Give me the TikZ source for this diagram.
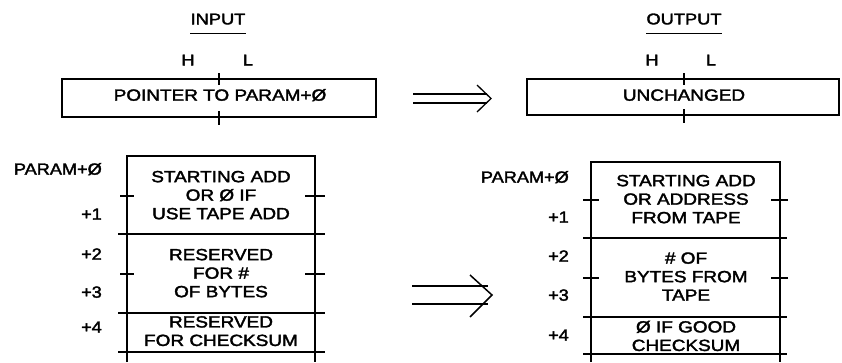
\documentclass[tikz,border=0pt]{standalone}
\usepackage{graphicx}
\usepackage{fontspec}
\setmainfont{Liberation Sans}[FakeBold=2]
\newcommand{\wtxt}[2][1.17]{\scalebox{#1}[1]{\begin{tabular}{@{}c@{}}#2\end{tabular}}}
\begin{document}
\begin{tikzpicture}[x=1pt,y=-1pt,
  ln/.style={line width=1.5pt},
  tk/.style={line width=1.3pt},
  txt/.style={font=\fontsize{16.2}{18.5}\selectfont, inner sep=0pt},
  lbl/.style={font=\fontsize{16.2}{18.5}\selectfont, inner sep=0pt, anchor=east},
  hd/.style={font=\fontsize{15.6}{17}\selectfont, inner sep=0pt}]
\useasboundingbox (0,0) rectangle (842,362);
% headings
\node[hd] (inp) at (218,21) {\wtxt{INPUT}};
\draw[line width=0.9pt] ([yshift=-3.5pt]inp.south west) -- ([yshift=-3.5pt]inp.south east);
\node[hd] (outp) at (684,21) {\wtxt{OUTPUT}};
\draw[line width=0.9pt] ([yshift=-3.5pt]outp.south west) -- ([yshift=-3.5pt]outp.south east);
\node[hd] (h1) at (188,62) {\wtxt{H}};
\node[hd] (l1) at (248,62) {\wtxt{L}};
\node[hd] (h2) at (652,62) {\wtxt{H}};
\node[hd] (l2) at (711,62) {\wtxt{L}};
% top boxes
\draw[ln] (62,79) rectangle (376,117);
\draw[tk] (219,73) -- (219,85) (219,111) -- (219,125);
\node[txt] (ptr) at (220,97) {\wtxt{POINTER TO PARAM+Ø}};
\draw[ln] (527,79) rectangle (839,115);
\draw[tk] (684,73) -- (684,85) (684,109) -- (684,123);
\node[txt] (unch) at (684,97) {\wtxt{UNCHANGED}};
% top arrow
\draw[line width=1.3pt] (413,94) -- (487,94) (413,103) -- (487,103);
\draw[line width=1.3pt] (477,85) -- (491,98.5) -- (477,112);
% lower left box
\draw[ln] (127,362) -- (127,156) -- (315,156) -- (315,362);
\draw[ln] (118,234) -- (325,234) (118,313) -- (325,313) (118,352) -- (325,352);
\draw[tk] (120,196) -- (134,196) (305,196) -- (325,196)
          (120,274) -- (134,274) (305,274) -- (325,274);
\node[txt] (a1) at (221,197) {\wtxt{STARTING ADD\\OR Ø IF\\USE TAPE ADD}};
\node[txt] (a2) at (221,275) {\wtxt{RESERVED\\FOR \#\\OF BYTES}};
\node[txt] (a3) at (221,333) {\wtxt{RESERVED\\FOR CHECKSUM}};
\node[lbl] (p0) at (102,171) {\wtxt[1.12]{PARAM+Ø}};
\node[lbl] (p1) at (102,216) {\wtxt[1.12]{+1}};
\node[lbl] (p2) at (102,256) {\wtxt[1.12]{+2}};
\node[lbl] (p3) at (102,294) {\wtxt[1.12]{+3}};
\node[lbl] (p4) at (102,329) {\wtxt[1.12]{+4}};
% lower arrow
\draw[line width=1.5pt] (412,286) -- (488,286) (412,304) -- (488,304);
\draw[line width=1.5pt] (470,275) -- (492,295) -- (470,317);
% lower right box
\draw[ln] (591,362) -- (591,162) -- (780,162) -- (780,362);
\draw[ln] (583,238) -- (787,238) (583,317) -- (787,317) (583,354) -- (787,354);
\draw[tk] (583,200) -- (599,200) (771,200) -- (788,200)
          (583,278) -- (599,278) (771,278) -- (788,278);
\node[txt] (b1) at (686,201) {\wtxt{STARTING ADD\\OR ADDRESS\\FROM TAPE}};
\node[txt] (b2) at (686,278.5) {\wtxt{\# OF\\BYTES FROM\\TAPE}};
\node[txt] (b3) at (686,338) {\wtxt{Ø IF GOOD\\CHECKSUM}};
\node[lbl] (q0) at (569,179) {\wtxt[1.12]{PARAM+Ø}};
\node[lbl] (q1) at (569,219) {\wtxt[1.12]{+1}};
\node[lbl] (q2) at (569,258) {\wtxt[1.12]{+2}};
\node[lbl] (q3) at (569,297) {\wtxt[1.12]{+3}};
\node[lbl] (q4) at (569,337) {\wtxt[1.12]{+4}};
\end{tikzpicture}
\end{document}
